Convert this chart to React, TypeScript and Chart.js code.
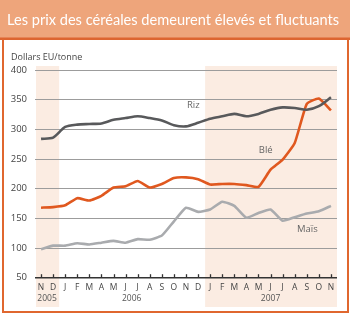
import React, { useEffect, useRef } from "react";
import { Chart, registerables } from "chart.js";

Chart.register(...registerables);

const months = ["N","D","J","F","M","A","M","J","J","A","S","O","N","D","J","F","M","A","M","J","J","A","S","O","N"];
const yearGroups = [
  { label: "2005", from: 0, to: 1 },
  { label: "2006", from: 2, to: 13 },
  { label: "2007", from: 14, to: 24 },
];
const shadedBands = [
  { from: 0, to: 1 },
  { from: 14, to: 24 },
];
const riz = [284, 286, 304, 308, 309, 310, 316, 319, 322, 319, 315, 307, 305, 311, 318, 322, 326, 322, 326, 333, 337, 336, 333, 339, 354];
const ble = [168, 169, 172, 184, 180, 188, 202, 204, 213, 202, 208, 218, 219, 216, 207, 208, 208, 206, 203, 232, 249, 277, 343, 352, 332];
const mais = [98, 104, 104, 108, 106, 109, 112, 109, 115, 114, 121, 145, 168, 161, 165, 178, 171, 151, 159, 165, 146, 152, 158, 162, 171];
const seriesLabels = [
  { text: "Riz", index: 12.6, value: 340 },
  { text: "Blé", index: 18.6, value: 264 },
  { text: "Maïs", index: 22.05, value: 132 },
];
const titleText = "Les prix des céréales demeurent élevés et fluctuants";
const yTitle = "Dollars EU/tonne";

const FONT = "'Open Sans', Lato, sans-serif";

export default function App() {
  const ref = useRef<HTMLCanvasElement>(null);
  useEffect(() => {
    const canvas = ref.current!;
    const deco = {
      id: "deco",
      beforeDraw(chart: any) {
        const ctx = chart.ctx;
        const { chartArea } = chart;
        const xs = chart.scales.x;
        ctx.save();
        ctx.fillStyle = "#ffffff";
        ctx.fillRect(0, 0, 350, 315);
        // title bar
        ctx.fillStyle = "#eea57b";
        ctx.fillRect(0, 0, 350, 38);
        ctx.fillStyle = "#dd6530";
        ctx.fillRect(0, 37.5, 350, 2.5);
        // frame
        ctx.strokeStyle = "#e0672f";
        ctx.lineWidth = 2;
        ctx.beginPath();
        ctx.moveTo(3, 39);
        ctx.lineTo(3, 312);
        ctx.lineTo(348, 312);
        ctx.lineTo(348, 39);
        ctx.stroke();
        // title
        ctx.fillStyle = "#ffffff";
        ctx.font = `14.6px Lato, ${FONT}`;
        ctx.textBaseline = "alphabetic";
        ctx.textAlign = "left";
        ctx.fillText(titleText, 7, 25);
        // shading
        const band = (chartArea.right - chartArea.left) / months.length;
        ctx.fillStyle = "#fbece2";
        for (const s of shadedBands) {
          const x0 = xs.getPixelForValue(s.from) - band / 2;
          const x1 = xs.getPixelForValue(s.to) + band / 2;
          ctx.fillRect(x0 + 1, chartArea.top - 4, x1 - x0 - 1, 307 - (chartArea.top - 4));
        }
        ctx.restore();
      },
      afterDraw(chart: any) {
        const ctx = chart.ctx;
        const { chartArea } = chart;
        const xs = chart.scales.x;
        const ys = chart.scales.y;
        ctx.save();
        // axis ticks upward
        ctx.strokeStyle = "#333333";
        ctx.lineWidth = 1.3;
        for (let i = 0; i < months.length; i++) {
          const x = Math.round(xs.getPixelForValue(i)) + 0.5;
          ctx.beginPath();
          ctx.moveTo(x, chartArea.bottom);
          ctx.lineTo(x, chartArea.bottom - 3.5);
          ctx.stroke();
        }
        // years
        ctx.fillStyle = "#555555";
        ctx.font = `8.5px ${FONT}`;
        ctx.textAlign = "center";
        ctx.textBaseline = "middle";
        for (const g of yearGroups) {
          const x = (xs.getPixelForValue(g.from) + xs.getPixelForValue(g.to)) / 2;
          ctx.fillText(g.label, x, 298.5);
        }
        // y title
        ctx.textAlign = "left";
        ctx.font = `9px ${FONT}`;
        ctx.fillStyle = "#444444";
        ctx.fillText(yTitle, 11, 57);
        // series labels
        ctx.textAlign = "center";
        ctx.fillStyle = "#666666";
        ctx.font = `9.5px ${FONT}`;
        for (const l of seriesLabels) {
          ctx.fillText(l.text, xs.getPixelForValue(l.index), ys.getPixelForValue(l.value));
        }
        ctx.restore();
      },
    };
    const chart = new Chart(canvas, {
      type: "line",
      data: {
        labels: months,
        datasets: [
          { label: "Riz", data: riz, borderColor: "#58595b", borderWidth: 2.6, pointRadius: 0, tension: 0.25, fill: false },
          { label: "Blé", data: ble, borderColor: "#e0581f", borderWidth: 2.6, pointRadius: 0, tension: 0.15, fill: false },
          { label: "Maïs", data: mais, borderColor: "#a9abae", borderWidth: 2.6, pointRadius: 0, tension: 0.15, fill: false },
        ],
      },
      options: {
        responsive: false,
        animation: false,
        devicePixelRatio: 1,
        layout: { padding: { top: 70, right: 13, left: 0, bottom: 0 } },
        plugins: { legend: { display: false }, tooltip: { enabled: false }, title: { display: false } },
        scales: {
          x: {
            type: "category",
            offset: true,
            grid: { display: false, drawTicks: false },
            border: { display: false },
            ticks: {
              autoSkip: false,
              maxRotation: 0,
              minRotation: 0,
              padding: 5,
              color: "#444444",
              font: { family: FONT, size: 8.5 },
            },
            afterFit(s: any) { s.height = 37.3; },
          },
          y: {
            min: 50,
            max: 400,
            grid: {
              drawTicks: false,
              color: (c: any) => (c.tick && c.tick.value === 50 ? "#333333" : "#9c9c9c"),
              lineWidth: (c: any) => (c.tick && c.tick.value === 50 ? 1.5 : 1),
            },
            border: { display: false },
            ticks: {
              stepSize: 50,
              padding: 8,
              color: "#444444",
              font: { family: FONT, size: 9.5 },
            },
            afterFit(s: any) { s.width = 35; },
          },
        },
      },
      plugins: [deco],
    });
    return () => chart.destroy();
  }, []);
  return (
    <div style={{ position: "fixed", left: 0, top: 0, width: 350, height: 315 }}>
      <canvas ref={ref} width={350} height={315} style={{ width: 350, height: 315, display: "block" }} />
    </div>
  );
}
